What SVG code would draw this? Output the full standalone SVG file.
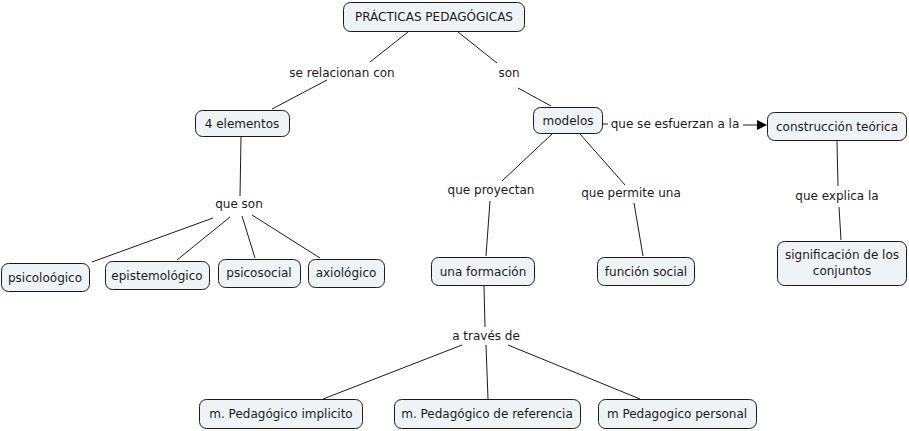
<svg xmlns="http://www.w3.org/2000/svg" width="909" height="431" viewBox="0 0 909 431">
<style>
.n rect{fill:#eef3f5;stroke:#1a1a1a;stroke-width:1}
text{font-family:"DejaVu Sans",Verdana,sans-serif;font-size:12px;fill:#1a1a1a;text-anchor:middle}
.c line{stroke:#1a1a1a;stroke-width:1}
</style>
<defs>
<marker id="ah" markerWidth="10" markerHeight="10" refX="9" refY="5" orient="auto" markerUnits="userSpaceOnUse">
<path d="M0,0 L10,5 L0,10 Z" fill="#000"/>
</marker>
</defs>
<rect width="909" height="431" fill="#fff"/>
<g class="c" id="connectors">
<line x1="408" y1="32" x2="370" y2="62"/>
<line x1="327" y1="80" x2="272" y2="109"/>
<line x1="458" y1="32" x2="497" y2="63"/>
<line x1="518" y1="88" x2="551" y2="106"/>
<line x1="241" y1="137" x2="240" y2="196"/>
<line x1="213" y1="218" x2="92" y2="262"/>
<line x1="230" y1="217" x2="177" y2="260"/>
<line x1="242" y1="216" x2="255" y2="258"/>
<line x1="252" y1="215" x2="320" y2="258"/>
<line x1="552" y1="134" x2="502" y2="181"/>
<line x1="580" y1="134" x2="625" y2="185"/>
<line x1="490" y1="201" x2="486" y2="256"/>
<line x1="634" y1="203" x2="643" y2="256"/>
<line x1="603" y1="124" x2="608" y2="124"/>
<line x1="743" y1="125" x2="766" y2="125" marker-end="url(#ah)"/>
<line x1="837" y1="141" x2="838" y2="186"/>
<line x1="839" y1="207" x2="841" y2="240"/>
<line x1="484" y1="286" x2="485" y2="327"/>
<line x1="462" y1="345" x2="323" y2="399"/>
<line x1="486" y1="345" x2="488" y2="399"/>
<line x1="508" y1="345" x2="640" y2="399"/>
</g>
<g id="lbl-relacionan"><text x="342" y="77">se relacionan con</text></g>
<g id="lbl-son"><text x="509" y="77">son</text></g>
<g id="lbl-esfuerzan"><text x="675" y="128">que se esfuerzan a la</text></g>
<g id="lbl-queson"><text x="239" y="208">que son</text></g>
<g id="lbl-proyectan"><text x="491" y="194">que proyectan</text></g>
<g id="lbl-permite"><text x="631" y="197">que permite una</text></g>
<g id="lbl-explica"><text x="837" y="200">que explica la</text></g>
<g id="lbl-traves"><text x="486" y="340">a través de</text></g>
<g class="n" id="practicas"><rect x="343.5" y="2.5" width="181" height="29" rx="7"/><text x="434" y="21">PRÁCTICAS PEDAGÓGICAS</text></g>
<g class="n" id="elementos"><rect x="195.5" y="110.5" width="94" height="26" rx="7"/><text x="242" y="128">4 elementos</text></g>
<g class="n" id="modelos"><rect x="533.5" y="107.5" width="69" height="26" rx="7"/><text x="568" y="125">modelos</text></g>
<g class="n" id="construccion"><rect x="767.5" y="112.5" width="139" height="28" rx="7"/><text x="837" y="131">construcción teórica</text></g>
<g class="n" id="psicologico"><rect x="1.5" y="263.5" width="88" height="28" rx="7"/><text x="45" y="282">psicoloógico</text></g>
<g class="n" id="epistemologico"><rect x="105.5" y="261.5" width="104" height="28" rx="7"/><text x="157" y="280">epistemológico</text></g>
<g class="n" id="psicosocial"><rect x="218.5" y="259.5" width="82" height="28" rx="7"/><text x="259" y="277">psicosocial</text></g>
<g class="n" id="axiologico"><rect x="308.5" y="259.5" width="76" height="28" rx="7"/><text x="346" y="277">axiológico</text></g>
<g class="n" id="formacion"><rect x="431.5" y="257.5" width="103" height="28" rx="7"/><text x="483" y="276">una formación</text></g>
<g class="n" id="funcion"><rect x="597.5" y="257.5" width="97" height="28" rx="7"/><text x="646" y="276">función social</text></g>
<g class="n" id="significacion"><rect x="777.5" y="241.5" width="129" height="44" rx="7"/><text x="842" y="259">significación de los</text><text x="842" y="275">conjuntos</text></g>
<g class="n" id="implicito"><rect x="199.5" y="399.5" width="163" height="29" rx="7"/><text x="281" y="418">m. Pedagógico implicito</text></g>
<g class="n" id="referencia"><rect x="394.5" y="399.5" width="186" height="29" rx="7"/><text x="487" y="418">m. Pedagógico de referencia</text></g>
<g class="n" id="personal"><rect x="598.5" y="399.5" width="158" height="29" rx="7"/><text x="677" y="418">m Pedagogico personal</text></g>
</svg>
